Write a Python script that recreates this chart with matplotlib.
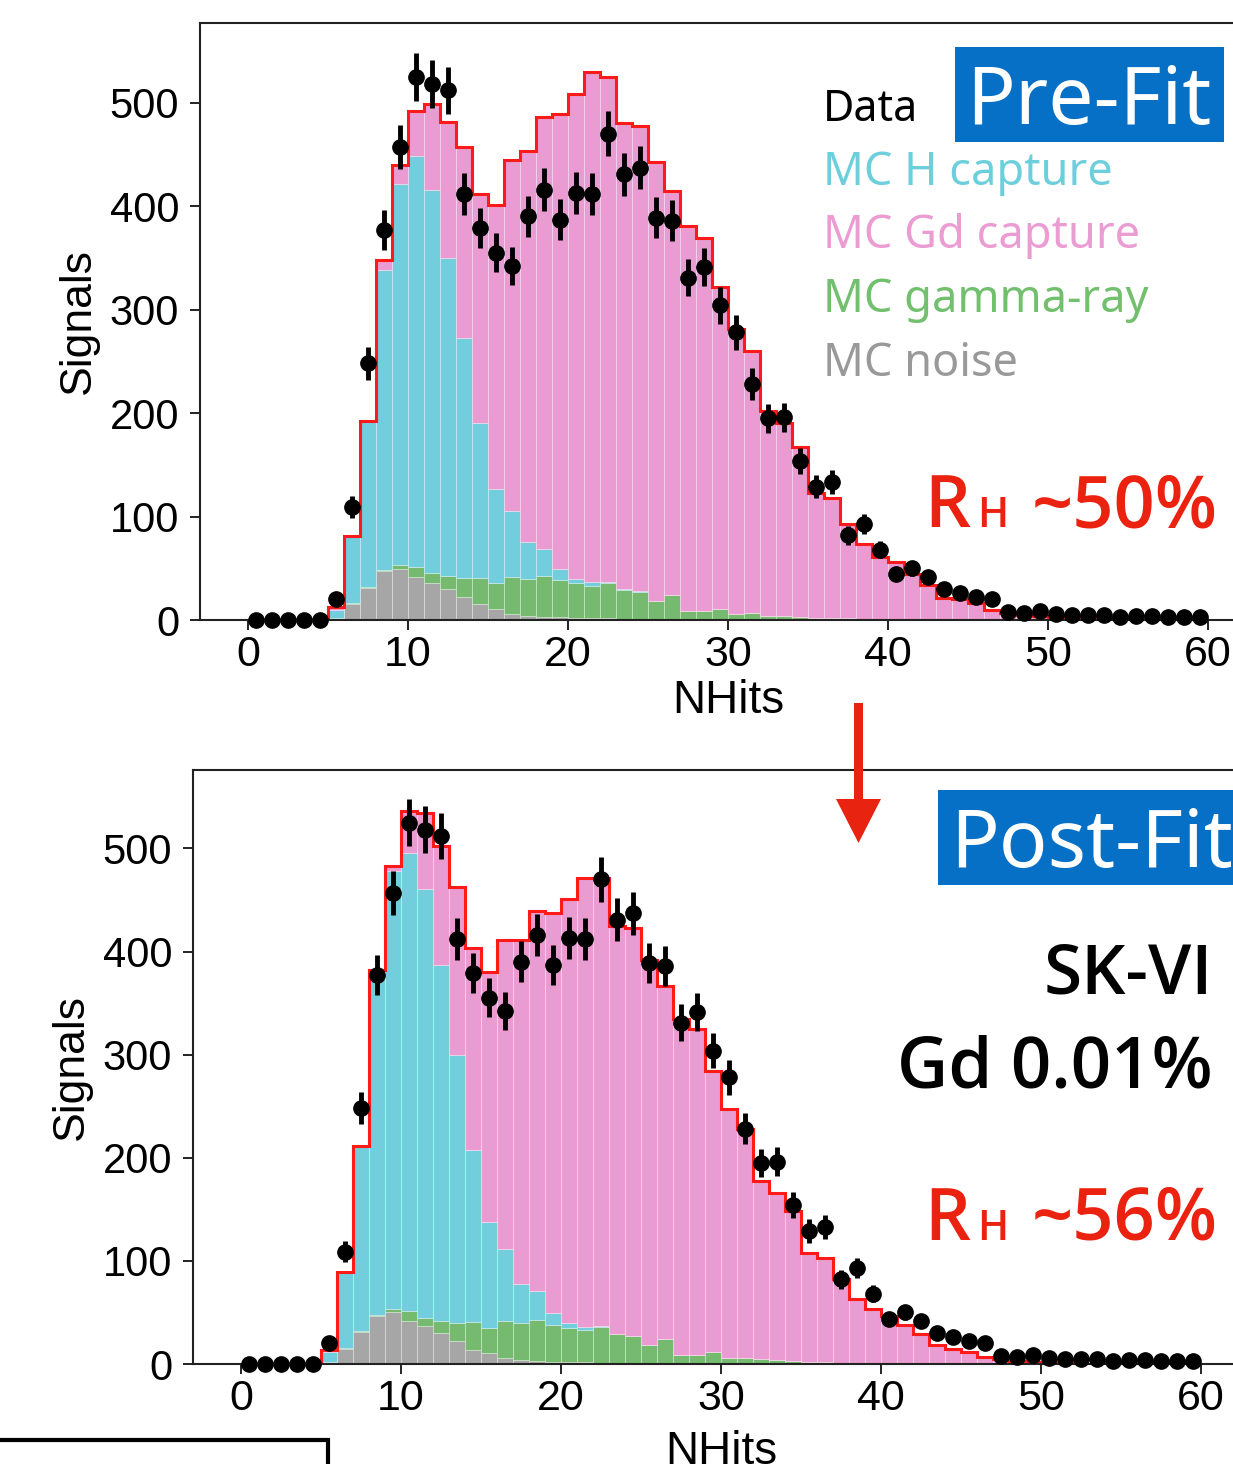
import numpy as np
import matplotlib
matplotlib.use("Agg")
import matplotlib.pyplot as plt
from matplotlib import font_manager
from matplotlib.patches import Rectangle, Polygon

W, H = 1233, 1464

# NHits bins 0..60, width 1
nhits_edges = np.arange(0, 61)
xticks = [0, 10, 20, 30, 40, 50, 60]
yticks = [0, 100, 200, 300, 400, 500]

# measured data (same in both panels)
data = [0, 0, 0, 0, 0, 20, 109, 248, 377, 457,
        525, 518, 512, 412, 379, 355, 342, 390, 416, 387,
        413, 412, 470, 431, 437, 389, 386, 331, 341, 304,
        278, 228, 195, 196, 154, 129, 133, 82, 93, 68,
        44, 50, 42, 30, 26, 22, 20, 8, 7, 9,
        6, 5, 5, 5, 3, 4, 4, 3, 3, 3]

# pre-fit MC components
pre_noise = [0, 0, 0, 0, 0, 2, 15, 31, 47, 49,
             42, 36, 30, 22, 15, 11, 6, 4, 3, 3,
             2, 2, 2, 1, 1, 1, 1, 1, 0, 0] + [0] * 30
pre_gamma = [0, 0, 0, 0, 0, 0, 1, 1, 1, 4,
             9, 9, 13, 19, 26, 25, 36, 36, 40, 36,
             34, 31, 34, 28, 26, 17, 23, 8, 9, 11,
             6, 7, 4, 4, 3, 2, 2, 2, 1, 1,
             1] + [0] * 19
pre_h = [0, 0, 0, 0, 0, 8, 65, 160, 290, 368,
         397, 371, 307, 232, 149, 91, 63, 35, 26, 10,
         4, 4, 1, 1, 1] + [0] * 35
pre_gd = [0, 0, 0, 0, 0, 3, 0, 0, 10, 19,
          44, 83, 131, 184, 222, 274, 340, 378, 417, 440,
          468, 493, 488, 450, 449, 425, 391, 372, 360, 311,
          275, 253, 198, 186, 164, 121, 116, 91, 72, 60,
          55, 44, 34, 21, 20, 16, 10, 7, 5, 4,
          3, 2, 2, 1, 1, 0, 0, 0, 0, 0]

# post-fit MC components
post_noise = [0, 0, 0, 0, 0, 2, 15, 31, 47, 50,
              42, 37, 30, 22, 14, 11, 6, 4, 3, 2,
              2, 2, 1, 1, 1, 1] + [0] * 34
post_gamma = [0, 0, 0, 0, 0, 0, 1, 1, 1, 3,
              9, 8, 12, 18, 27, 24, 36, 36, 40, 36,
              33, 31, 35, 28, 26, 17, 24, 9, 9, 12,
              6, 6, 5, 4, 3, 2, 2, 1, 1] + [0] * 21
post_h = [0, 0, 0, 0, 0, 10, 73, 179, 334, 425,
          445, 416, 345, 260, 167, 103, 70, 38, 28, 11,
          5, 3, 1] + [0] * 37
post_gd = [0, 0, 0, 0, 0, 2, 0, 0, 0, 5,
           40, 73, 115, 163, 195, 242, 299, 333, 368, 388,
           411, 435, 434, 396, 396, 374, 343, 326, 316, 272,
           241, 222, 172, 162, 145, 106, 101, 81, 62, 53,
           47, 38, 29, 18, 15, 12, 7, 5, 3, 2,
           1, 1, 0, 0, 0, 0, 0, 0, 0, 0]

c_noise = "#A6A6A6"
c_gamma = "#76BA70"
c_h = "#72CEDC"
c_gd = "#EA9CD2"
c_red = "#FF1A1A"
c_blue = "#0570C5"
c_txtred = "#EB2210"

fonts = font_manager.fontManager.ttflist
names = {f.name for f in fonts}
narrow = "Liberation Sans Narrow" if "Liberation Sans Narrow" in names else "Liberation Sans"

# a sans family that actually ships a heavy face, for the annotations
bold_family = "DejaVu Sans"
for fam in ["Noto Sans", "Open Sans", "Roboto", "Inter", "Lato", "Liberation Sans"]:
    if any(f.name == fam and (f.weight in ("bold", "semibold", "demibold")
                              or (isinstance(f.weight, int) and f.weight >= 600)) for f in fonts):
        bold_family = fam
        break

plt.rcParams["font.family"] = ["Liberation Sans", "DejaVu Sans"]

fig = plt.figure(figsize=(W / 100, H / 100), dpi=100)


def draw_panel(ax, noise, gamma, hcap, gdcap, ytop):
    left = nhits_edges[:-1]
    bottom = np.zeros(len(left))
    for vals, col in [(noise, c_noise), (gamma, c_gamma), (hcap, c_h), (gdcap, c_gd)]:
        vals = np.array(vals, dtype=float)
        ax.bar(left, vals, width=1, align="edge", bottom=bottom, color=col,
               edgecolor=(1, 1, 1, 0.3), linewidth=0.7, zorder=1)
        bottom = bottom + vals
    ax.stairs(bottom, nhits_edges, color=c_red, linewidth=2.2, zorder=2)
    d = np.array(data, dtype=float)
    ax.errorbar(left + 0.5, d, yerr=np.sqrt(d), fmt="o", color="black", ms=11,
                elinewidth=3.5, capsize=0, zorder=3, clip_on=False)
    ax.set_xlim(-3, 63)
    ax.set_ylim(0, ytop)
    ax.set_xticks(xticks)
    ax.set_yticks(yticks)
    ax.tick_params(axis="both", direction="out", length=7, width=1.4, colors="#222222")
    ax.tick_params(axis="x", labelsize=31, pad=4)
    ax.tick_params(axis="y", labelsize=30, pad=8)
    for lab in ax.get_xticklabels():
        lab.set_fontfamily(narrow)
        lab.set_color("black")
    for lab in ax.get_yticklabels():
        lab.set_color("black")
    for s in ax.spines.values():
        s.set_linewidth(1.5)
        s.set_color("#222222")
    ax.set_xlabel("NHits", fontsize=33, family=narrow, labelpad=3)
    ax.set_ylabel("Signals", fontsize=32, labelpad=8)


ax1 = fig.add_axes([200 / W, (H - 620) / H, 1056 / W, 597 / H])
draw_panel(ax1, pre_noise, pre_gamma, pre_h, pre_gd, 577)
ax2 = fig.add_axes([193 / W, (H - 1364) / H, 1056 / W, 594 / H])
draw_panel(ax2, post_noise, post_gamma, post_h, post_gd, 576)
ax2.xaxis.labelpad = 8


def px(x, y):
    return x / W, 1 - y / H


def ftext(x, y, s, **kw):
    fig.text(*px(x, y), s, **kw)


sans = ["Noto Sans", "DejaVu Sans"]
heavy = [bold_family, "DejaVu Sans"]

# legend entries
ftext(823, 121, "Data", color="black", fontsize=31, family=sans, va="baseline")
ftext(823, 185, "MC H capture", color="#6DCFDC", fontsize=32.5, family=sans, va="baseline")
ftext(823, 248, "MC Gd capture", color="#EB9CD3", fontsize=32.5, family=sans, va="baseline")
ftext(823, 312, "MC gamma-ray", color="#72BF6E", fontsize=32.5, family=sans, va="baseline")
ftext(823, 376, "MC noise", color="#999999", fontsize=32.5, family=sans, va="baseline")

# Pre-Fit / Post-Fit boxes
fig.add_artist(Rectangle(px(955, 142), (1224 - 955) / W, 95 / H, transform=fig.transFigure,
                         facecolor=c_blue, edgecolor="none"))
ftext(966, 124, "Pre-Fit", color="white", fontsize=58, family=sans, va="baseline")
fig.add_artist(Rectangle(px(938, 885), (1260 - 938) / W, 95 / H, transform=fig.transFigure,
                         facecolor=c_blue, edgecolor="none"))
ftext(950, 867, "Post-Fit", color="white", fontsize=58, family=sans, va="baseline")

# R_H annotations
for yb, txt in [(527, "~50%"), (1240, "~56%")]:
    ftext(924, yb, "R", color=c_txtred, fontsize=52, family=heavy, weight=600, va="baseline")
    ftext(977, yb, "H", color=c_txtred, fontsize=30, family=heavy, weight=600, va="baseline")
    ftext(1218, yb, txt, color=c_txtred, fontsize=52, family=heavy, weight=600,
          va="baseline", ha="right")

ftext(1213, 993, "SK-VI", color="black", fontsize=50, family=heavy, weight=600,
      va="baseline", ha="right")
ftext(1213, 1088, "Gd 0.01%", color="black", fontsize=51, family=heavy, weight=600,
      va="baseline", ha="right")

# red arrow between panels
arrow = [(854, 703), (863, 703), (863, 799), (881, 799), (858.5, 843), (836, 799), (854, 799)]
fig.add_artist(Polygon([px(x, y) for x, y in arrow], closed=True, transform=fig.transFigure,
                       facecolor="#E8230F", edgecolor="none"))

# partial box at bottom-left edge of the slide
fig.add_artist(Rectangle(px(-20, 1520), 348 / W, 80 / H, transform=fig.transFigure,
                         fill=False, edgecolor="black", linewidth=3))

fig.savefig("out.png", dpi=100)
